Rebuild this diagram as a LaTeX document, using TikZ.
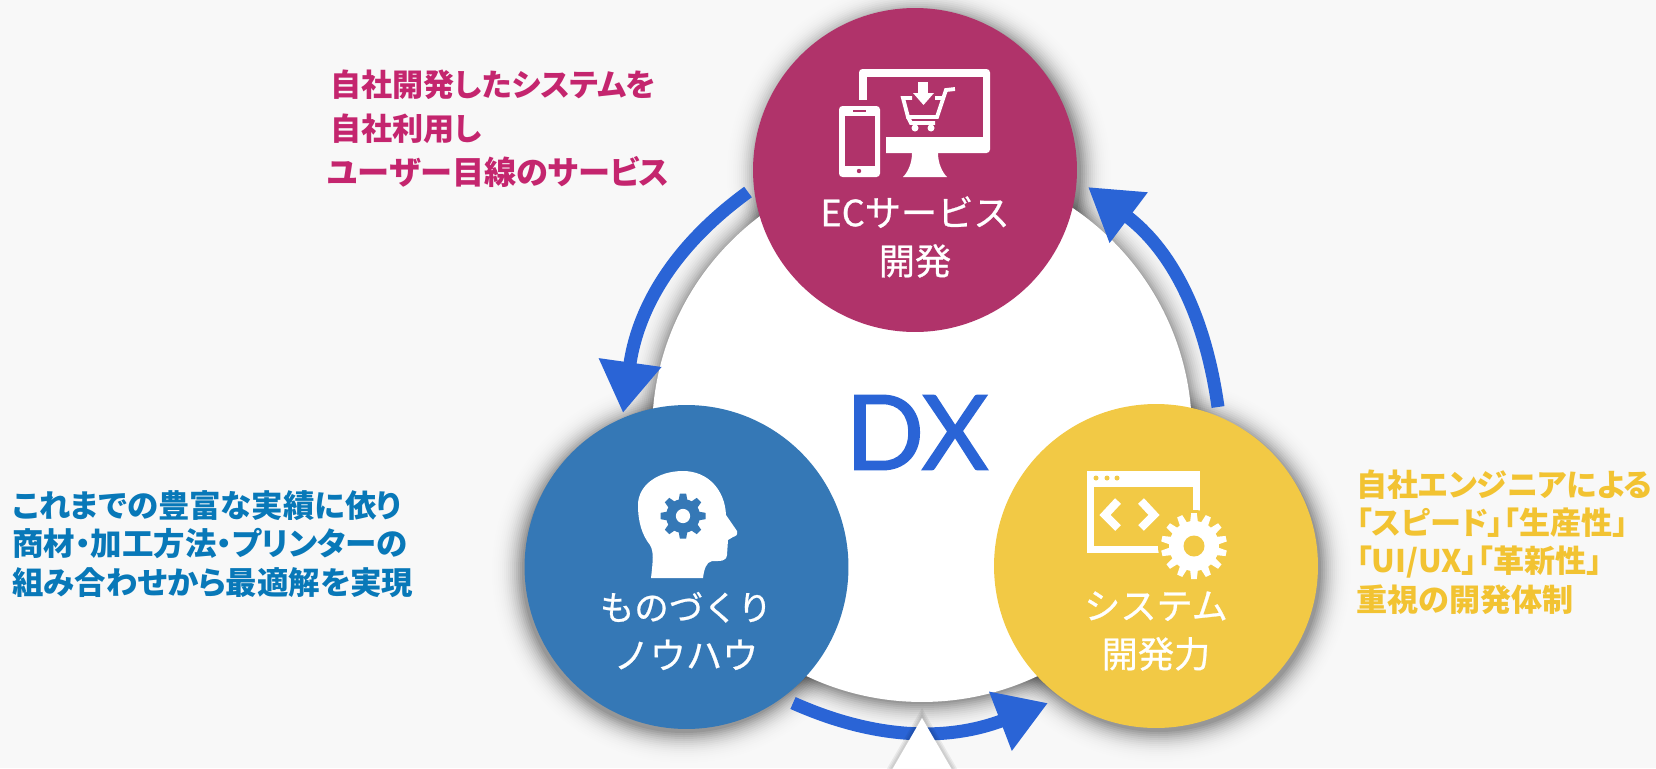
\documentclass[tikz,border=0pt]{standalone}
\usepackage{fontspec}
\usepackage{xcolor}
\usetikzlibrary{positioning}
\usetikzlibrary{arrows.meta}
\newfontfamily\jpfont[RawFeature=+palt]{Noto Sans CJK JP}
\newfontfamily\jpmedium[FakeBold=.7]{Noto Sans CJK JP}
\newfontfamily\dxfont[FakeBold=1.5]{Lato}
\definecolor{pagegray}{HTML}{F8F8F8}
\definecolor{bubblepink}{HTML}{B0336A}
\definecolor{bubbleblue}{HTML}{3578B6}
\definecolor{bubbleyellow}{HTML}{F2C945}
\definecolor{cycleblue}{HTML}{2A64D6}
\definecolor{textpink}{HTML}{C4256E}
\definecolor{textblue}{HTML}{0878B8}
\definecolor{textyellow}{HTML}{F2C332}
\newcommand{\softshadow}[3]{
  \foreach \d in {30,28,...,0} {
    \pgfmathsetmacro{\o}{.003+.075*(1-\d/30)^2}
    \fill[black,opacity=\o] (#1,#2) circle ({#3+\d});
  }
}
\newcommand{\gearicon}[8]{
  \begin{scope}[shift={(#1,#2)}]
    \foreach \i in {1,...,#5}
      \fill[#6,rotate=\i*360/#5] (-#7,#4-2) -- (-#7*.7,#3) -- (#7*.7,#3) -- (#7,#4-2) -- cycle;
    \fill[#6] (0,0) circle (#4);
    \fill[#8] (0,0) circle ({#4*.42});
  \end{scope}
}
\tikzset{
  bubble/.style={circle,minimum size=6.48cm,inner sep=0pt},
  bubblelabel/.style={text=white,align=center,font=\jpmedium\fontsize{20.6}{27.5}\selectfont},
  sidetext/.style n args={2}{anchor=west,align=left,inner sep=0pt,font=\jpfont\bfseries\fontsize{#1}{#2}\selectfont},
  cyclearrow/.style={cycleblue,line width=7.4pt,-{Triangle[length=29pt,width=34pt]}}
}

\begin{document}
\begin{tikzpicture}[x=.02cm,y=-.02cm]
  \useasboundingbox (0,0) rectangle (1656,768);
  \fill[pagegray] (0,0) rectangle (1656,768);

  \softshadow{919}{174}{162}
  \softshadow{684}{571}{162}
  \softshadow{1159}{570}{162}
  \softshadow{922}{434}{270}
  \node [circle,minimum size=10.8cm,inner sep=0pt,fill=white] (dxdisc) at (922,432) {};
  \node [inner sep=0pt,text=cycleblue,font=\dxfont\fontsize{59}{59}\selectfont] (dxtext) at (917,432.5) {DX};

  \coordinate (ecout) at (748,192);
  \coordinate (makein) at (623,413);
  \coordinate (makeout) at (793,703);
  \coordinate (sysin) at (1048,703);
  \coordinate (sysout) at (1218,407);
  \coordinate (ecin) at (1088,187);
  \draw[cyclearrow] (ecout) to[out=216,in=82] (makein);
  \draw[cyclearrow] (makeout) to[out=-24,in=201] (sysin);
  \draw[cyclearrow] (sysout) to[out=98,in=323] (ecin);

  \foreach \w in {10,7,4}
    \draw[black,opacity=.06,line width=\w*.5669pt] (922,718) -- (955,775) -- (889,775) -- cycle;
  \fill[white] (922,718) -- (955,775) -- (889,775) -- cycle;

  \node [bubble,fill=bubblepink] (ecbubble) at (915,170) {};
  \node [bubble,fill=bubbleblue] (makebubble) at (686.5,567) {};
  \node [bubble,fill=bubbleyellow] (sysbubble) at (1156,566) {};

  \fill[white,rounded corners=2pt] (859,69) rectangle (990,153);
  \fill[bubblepink] (867,77) rectangle (983,137);
  \fill[bubblepink] (855,100) rectangle (886,158);
  \fill[white] (912,153) .. controls (912,163) and (908,172) .. (903,177) -- (947,177) .. controls (942,172) and (938,163) .. (938,153) -- cycle;
  \fill[white,rounded corners=2pt] (839,106) rectangle (880,177);
  \fill[bubblepink] (845,116) rectangle (875,166);
  \fill[bubblepink] (853,110) rectangle (866,111.5);
  \fill[bubblepink] (859,171) circle (2.2);
  \fill[white] (918,82) rectangle (928,93);
  \fill[white] (913,93) -- (934,93) -- (923.5,105) -- cycle;
  \draw[white,line width=2.2pt] (912,98) -- (903,98) -- (908,117) -- (937,117) -- (946,90) -- (955,89);
  \draw[white,line width=2.2pt] (935,98) -- (943,98);
  \draw[white,line width=2.2pt] (908,117) -- (911,123) -- (935,123);
  \fill[white] (915,128) circle (3.5);
  \fill[white] (931,128) circle (3.5);
  \node [bubblelabel] (eclabel) at (915,237) {ECサービス\\開発};

  \fill[white] (651,578) .. controls (653,560) and (654,552) .. (650,545) .. controls (642,535) and (638,522) .. (638,505) .. controls (638,485) and (658,471) .. (683,471) .. controls (708,471) and (725,490) .. (726,515) -- (737,531) .. controls (738,535) and (736,536) .. (733,537) -- (728,540) -- (727,555) .. controls (726,562) and (720,561) .. (712,561) .. controls (706,562) and (704,570) .. (703,578) -- cycle;
  \gearicon{683}{516}{22.5}{17}{8}{bubbleblue}{4.5}{white}
  \node [bubblelabel] (makelabel) at (686,631) {{\fontsize{19.6}{27.5}\selectfont ものづくり}\\ノウハウ};

  \fill[white] (1087,471) rectangle (1200,553);
  \fill[bubbleyellow] (1094,487) rectangle (1193,546);
  \foreach \x in {1096,1107,1117}
    \fill[bubbleyellow] (\x,478) circle (2.5);
  \draw[white,line width=4.6pt] (1118,501) -- (1105,515) -- (1118,528);
  \draw[white,line width=4.6pt] (1141,501) -- (1154,515) -- (1141,528);
  \fill[bubbleyellow] (1194,546) circle (36);
  \fill[bubbleyellow] (1186,553) rectangle (1204,560);
  \gearicon{1194}{546}{33}{25}{14}{white}{4}{bubbleyellow}
  \node [bubblelabel] (syslabel) at (1156,631) {システム\\開発力};

  \node [sidetext={17.7}{25},text=textpink] (ectext) at (330,129) {自社開発したシステムを\\自社利用し\\\hspace{-1.6pt}{\fontsize{18.3}{25}\selectfont ユーザー目線のサービス}};
  \node [sidetext={17.9}{22},text=textblue] (maketext) at (12,544) {これまでの豊富な実績に依り\\商材・加工方法・プリンターの\\組み合わせから最適解を実現};
  \node [sidetext={17.7}{21.8},text=textyellow] (systext) at (1356,542) {自社エンジニアによる\\「スピード」「生産性」\\「UI/UX」「革新性」\\重視の開発体制};
\end{tikzpicture}
\end{document}
